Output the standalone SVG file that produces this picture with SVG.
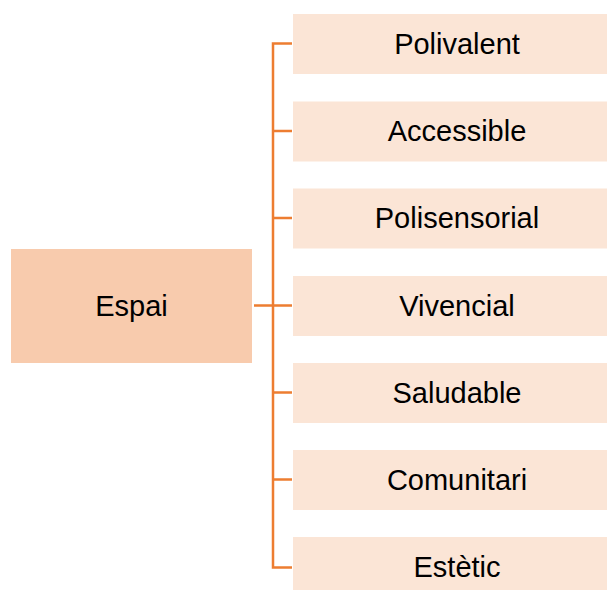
<svg xmlns="http://www.w3.org/2000/svg" width="607" height="590" viewBox="0 0 607 590">
<style>
.leaf{fill:#FBE5D6}
.root{fill:#F8CBAD}
.t{font-family:"Liberation Sans",Arial,sans-serif;font-size:29px;fill:#000;text-anchor:middle}
.c{stroke:#ED7D31;stroke-width:2.5;fill:none}
</style>
<rect width="607" height="590" fill="#fff"/>
<g id="connectors">
<path class="c" d="M292,43.5 H273 V567.5 H292"/>
<path class="c" d="M254,305.5 H292"/>
<path class="c" d="M273,131 H292 M273,218 H292 M273,392.5 H292 M273,479.5 H292"/>
</g>
<g id="espai"><rect class="root" x="11" y="249" width="241" height="114"/><text class="t" x="131.5" y="316">Espai</text></g>
<g id="polivalent"><rect class="leaf" x="293" y="14" width="314" height="60"/><text class="t" x="457" y="54">Polivalent</text></g>
<g id="accessible"><rect class="leaf" x="293" y="101.5" width="314" height="60"/><text class="t" x="457" y="141">Accessible</text></g>
<g id="polisensorial"><rect class="leaf" x="293" y="188.5" width="314" height="60"/><text class="t" x="457" y="228">Polisensorial</text></g>
<g id="vivencial"><rect class="leaf" x="293" y="276" width="314" height="60"/><text class="t" x="457" y="315.5">Vivencial</text></g>
<g id="saludable"><rect class="leaf" x="293" y="363" width="314" height="60"/><text class="t" x="457" y="402.5">Saludable</text></g>
<g id="comunitari"><rect class="leaf" x="293" y="450" width="314" height="60"/><text class="t" x="457" y="489.5">Comunitari</text></g>
<g id="estetic"><rect class="leaf" x="293" y="537" width="314" height="60"/><text class="t" x="457" y="577">Estètic</text></g>
</svg>
